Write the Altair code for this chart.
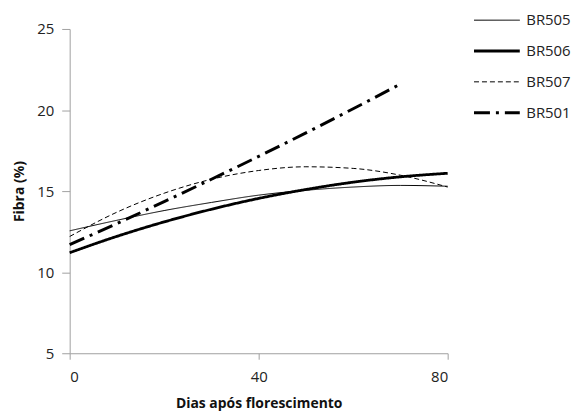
import altair as alt
import pandas as pd

series = ["BR505", "BR506", "BR507", "BR501"]
days = [0, 10, 20, 30, 40, 50, 60, 70, 80]
br505 = [12.55, 13.2, 13.8, 14.3, 14.75, 15.05, 15.25, 15.35, 15.3]
br506 = [11.2, 12.21, 13.1, 13.88, 14.55, 15.1, 15.55, 15.88, 16.1]
br507 = [12.2, 13.7, 14.87, 15.73, 16.27, 16.5, 16.4, 15.98, 15.25]
days501 = [0, 10, 20, 30, 40, 50, 60, 70]
br501 = [11.7, 13.0, 14.35, 15.73, 17.14, 18.59, 20.08, 21.6]

rows = []
for name, xs, ys in [("BR505", days, br505), ("BR506", days, br506),
                     ("BR507", days, br507), ("BR501", days501, br501)]:
    for x, y in zip(xs, ys):
        rows.append({"Cultivar": name, "Dias": x, "Fibra": y})
df = pd.DataFrame(rows)

FONT = "Open Sans"

leg = dict(title=None, orient="none", legendX=405, legendY=-24,
           symbolType="stroke", symbolSize=2116, symbolStrokeColor="black",
           rowPadding=0, clipHeight=30.3, labelFontSize=15, labelFont=FONT,
           labelColor="#222", padding=0, labelOffset=5)

chart = alt.Chart(df).mark_line(interpolate="monotone", color="black").encode(
    x=alt.X("Dias:Q", scale=alt.Scale(domain=[0, 80], nice=False),
            axis=alt.Axis(values=[0, 40, 80], title="Dias após florescimento",
                          grid=False, tickSize=6, labelPadding=10,
                          titlePadding=13)),
    y=alt.Y("Fibra:Q", scale=alt.Scale(domain=[5, 25], nice=False),
            axis=alt.Axis(values=[5, 10, 15, 20, 25], title="Fibra (%)",
                          grid=False, tickSize=8, labelPadding=8,
                          titlePadding=10)),
    detail="Cultivar:N",
    strokeDash=alt.StrokeDash("Cultivar:N",
                              scale=alt.Scale(domain=series,
                                              range=[[1, 0], [1, 0], [5, 3], [16, 6, 3, 6]]),
                              legend=alt.Legend(**leg)),
    strokeWidth=alt.StrokeWidth("Cultivar:N",
                                scale=alt.Scale(type="ordinal", domain=series,
                                                range=[1, 2.8, 1, 3]),
                                legend=alt.Legend(**leg)),
).properties(
    width=380, height=326,
    padding={"left": 62, "top": 20, "right": 126, "bottom": 58},
    autosize=alt.AutoSizeParams(type="none"),
).configure_axis(
    domainColor="#a0a0a0", tickColor="#a0a0a0", labelFont=FONT, titleFont=FONT,
    labelFontSize=15, titleFontSize=14, titleFontWeight="bold",
    labelColor="#222", titleColor="#111",
).configure_view(stroke=None)

chart.save("out.html", embed_options={"renderer": "svg", "actions": False})
